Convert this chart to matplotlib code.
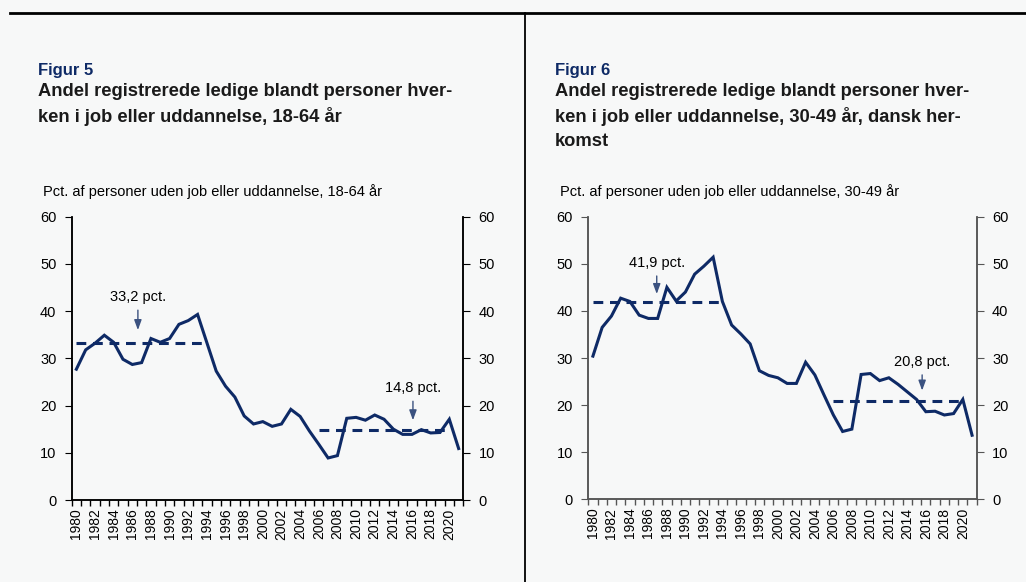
import numpy as np
import matplotlib
matplotlib.use("Agg")
import matplotlib.pyplot as plt
from matplotlib.lines import Line2D

plt.rcParams['font.family'] = ['Liberation Sans', 'DejaVu Sans']

# data
years = list(range(1980, 2022))
share_18_64 = [27.7, 31.8, 33.2, 34.9, 33.4, 29.8, 28.7, 29.1, 34.2, 33.4,
               34.2, 37.2, 38.0, 39.3, 33.3, 27.3, 24.1, 21.8, 17.8, 16.1,
               16.6, 15.6, 16.1, 19.2, 17.7, 14.6, 11.8, 8.9, 9.4, 17.3,
               17.5, 16.9, 18.0, 17.1, 15.0, 13.9, 13.9, 14.9, 14.2, 14.3,
               17.1, 10.9]
share_30_49 = [30.4, 36.5, 38.9, 42.7, 42.0, 39.1, 38.4, 38.4, 45.0, 42.1,
               44.0, 47.8, 49.5, 51.4, 42.0, 37.0, 35.1, 33.0, 27.3, 26.3,
               25.8, 24.6, 24.6, 29.1, 26.4, 22.1, 17.9, 14.4, 14.9, 26.5,
               26.7, 25.2, 25.8, 24.4, 22.8, 21.2, 18.6, 18.7, 17.9, 18.2,
               21.2, 13.6]
# period averages: (first year, last year, level, label)
avg_18_64 = [(1980, 1994, 33.2, '33,2 pct.'), (2006, 2020, 14.8, '14,8 pct.')]
avg_30_49 = [(1980, 1994, 41.9, '41,9 pct.'), (2006, 2020, 20.8, '20,8 pct.')]
# annotation positions: (year index, text level, arrow tip level)
notes_18_64 = [(6.6, 43.0, 35.4), (36.1, 23.7, 16.3)]
notes_30_49 = [(6.9, 50.2, 43.0), (35.6, 29.2, 22.5)]

bg = '#f7f8f8'
navy = '#0e2a66'
arrow_col = '#3b5280'

fig = plt.figure(figsize=(10.26, 5.82), dpi=100, facecolor=bg)

# frame lines
fig.add_artist(Line2D([10 / 1026, 1], [1 - 13 / 582, 1 - 13 / 582],
                      transform=fig.transFigure, color='black', lw=2))
fig.add_artist(Line2D([525 / 1026, 525 / 1026], [0, 1 - 13 / 582],
                      transform=fig.transFigure, color='black', lw=1.3))


def panel(rect, values, avgs, notes, fig_no, title, ylabel, spine_col, tx):
    ax = fig.add_axes(rect, facecolor=bg)
    x = np.arange(len(years))
    ax.plot(x, values, color=navy, lw=2.2, solid_joinstyle='miter', zorder=3)
    for y0, y1, lev, lab in avgs:
        ax.plot([years.index(y0), years.index(y1)], [lev, lev], color=navy,
                lw=2.2, ls=(0, (3.2, 2.2)), zorder=2)
    for (xi, ty, tip), (_, _, _, lab) in zip(notes, avgs):
        ax.annotate('', xy=(xi, tip), xytext=(xi, ty - 2.2),
                    arrowprops=dict(arrowstyle='-|>,head_width=0.22,head_length=0.6',
                                    color=arrow_col, lw=1))
        ax.text(xi, ty, lab, ha='center', va='center', fontsize=10.5)

    ax.set_xlim(-0.5, len(years) - 0.5)
    ax.set_ylim(0, 60)
    ax.set_yticks(range(0, 61, 10))
    ax.set_xticks(x[::2])
    ax.set_xticklabels([str(y) for y in years[::2]], rotation=90, fontsize=10)
    ax.set_xticks(np.arange(-0.5, len(years)), minor=True)
    ax.tick_params(axis='x', which='major', length=0, pad=6)
    ax.tick_params(axis='x', which='minor', length=4, direction='out',
                   color=spine_col, width=1)
    ax.tick_params(axis='y', length=5, direction='out', labelsize=10.5,
                   color=spine_col, pad=6)
    for s in ['left', 'bottom', 'right']:
        ax.spines[s].set_color(spine_col)
        ax.spines[s].set_linewidth(1.1)
    ax.spines['top'].set_visible(False)

    ax2 = ax.twinx()
    ax2.set_ylim(0, 60)
    ax2.set_yticks(range(0, 61, 10))
    ax2.tick_params(axis='y', length=5, direction='out', labelsize=10.5,
                    color=spine_col, pad=6)
    for s in ['left', 'bottom', 'right']:
        ax2.spines[s].set_color(spine_col)
        ax2.spines[s].set_linewidth(1.1)
    ax2.spines['top'].set_visible(False)

    fig.text(tx, 1 - 70 / 582, fig_no, fontsize=12, fontweight='bold',
             color='#0e2a66', va='center')
    for i, line in enumerate(title):
        fig.text(tx, 1 - (91 + 25 * i) / 582, line, fontsize=13.2,
                 fontweight='bold', color='#1a1a1a', va='center')
    fig.text(tx + 5 / 1026, 1 - 192 / 582, ylabel, fontsize=10.5, va='center')
    return ax


panel([71.7 / 1026, 1 - 500 / 582, (463.3 - 71.7) / 1026, (500 - 216.7) / 582],
      share_18_64, avg_18_64, notes_18_64, 'Figur 5',
      ['Andel registrerede ledige blandt personer hver-',
       'ken i job eller uddannelse, 18-64 år'],
      'Pct. af personer uden job eller uddannelse, 18-64 år', 'black',
      38 / 1026)

panel([588.3 / 1026, 1 - 499.3 / 582, (976.7 - 588.3) / 1026, (499.3 - 216.7) / 582],
      share_30_49, avg_30_49, notes_30_49, 'Figur 6',
      ['Andel registrerede ledige blandt personer hver-',
       'ken i job eller uddannelse, 30-49 år, dansk her-',
       'komst'],
      'Pct. af personer uden job eller uddannelse, 30-49 år', '#555555',
      555 / 1026)

fig.savefig('out.png', dpi=100, facecolor=bg)
